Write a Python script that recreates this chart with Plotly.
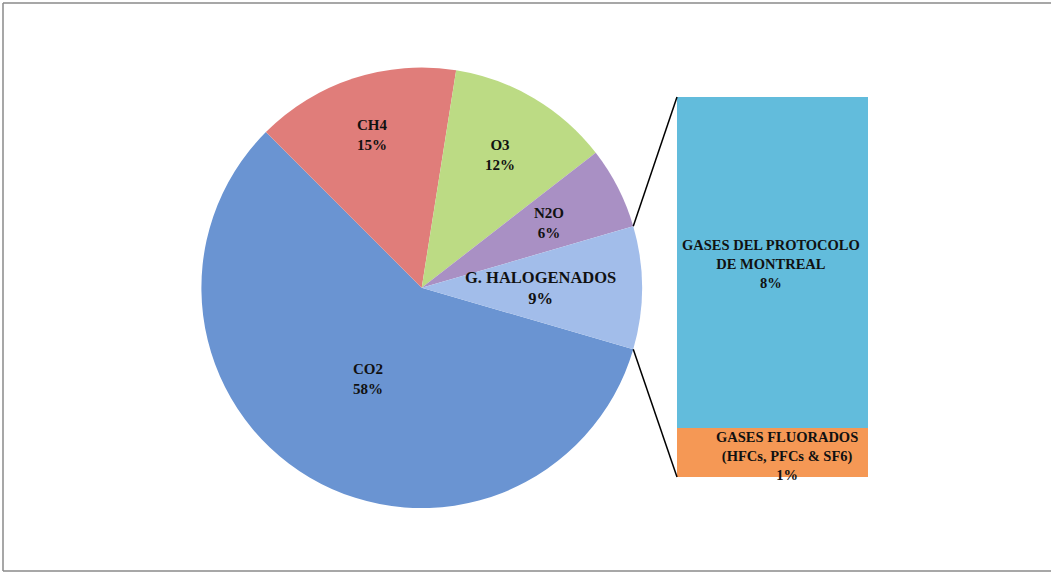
import math
import plotly.graph_objects as go

# ---------------- data ----------------
pie_labels = ["CO2", "CH4", "O3", "N2O", "G. HALOGENADOS"]
pie_values = [58, 15, 12, 6, 9]
bar_labels = ["GASES FLUORADOS<br>(HFCs, PFCs & SF6)", "GASES DEL PROTOCOLO<br>DE MONTREAL"]
bar_values = [1.15, 7.85]

# ---------------- style ----------------
W, H = 1051, 573
pie_colors = ["#6a94d2", "#e07d7a", "#bcdb84", "#a990c4", "#a2bdea"]
bar_colors = ["#f59855", "#62bcdc"]
FONT = "Liberation Serif"

# pie placement (pixels)
PIE_CX, PIE_CY, PIE_R = 421.7, 287.8, 220.3
pie_dom_x = [(PIE_CX - PIE_R) / W, (PIE_CX + PIE_R) / W]
pie_dom_y = [1 - (PIE_CY + PIE_R) / H, 1 - (PIE_CY - PIE_R) / H]

# bar placement (pixels)
BAR_X0, BAR_X1, BAR_Y0, BAR_Y1 = 677, 868, 97, 477
bar_dom_x = [BAR_X0 / W, BAR_X1 / W]
bar_dom_y = [1 - BAR_Y1 / H, 1 - BAR_Y0 / H]

total = sum(pie_values)
last_share = pie_values[-1] / total
rotation = 90 + last_share * 180  # last slice centred at 3 o'clock

fig = go.Figure()
fig.add_trace(go.Pie(
    labels=pie_labels, values=pie_values, sort=False, direction="clockwise",
    rotation=rotation, domain=dict(x=pie_dom_x, y=pie_dom_y),
    marker=dict(colors=pie_colors, line=dict(width=0)),
    textinfo="none", hoverinfo="label+percent", showlegend=False,
))

bar_total = sum(bar_values)
for lab, v, c in zip(bar_labels, bar_values, bar_colors):
    fig.add_trace(go.Bar(
        x=[0], y=[v], width=[1], marker=dict(color=c, line=dict(width=0)),
        name=lab.replace("<br>", " "), showlegend=False,
        xaxis="x", yaxis="y", hoverinfo="name+y",
    ))

annotations = []
# pie labels
label_radius = [0.48, 0.73, 0.70, 0.65, 0.54]
label_size = [15, 15, 15, 15, 16.5]
cum = 0
for lab, v, f, fs in zip(pie_labels, pie_values, label_radius, label_size):
    mid = math.radians(rotation + (cum + v / 2) / total * 360)
    cum += v
    px = PIE_CX + f * PIE_R * math.sin(mid)
    py = PIE_CY - f * PIE_R * math.cos(mid)
    annotations.append(dict(
        x=px / W, y=1 - py / H, xref="paper", yref="paper",
        text=f"<b>{lab}<br>{round(v / total * 100)}%</b>",
        showarrow=False, xanchor="center", yanchor="middle",
        font=dict(family=FONT, size=fs, color="#111111"),
    ))

# bar labels
bar_xshift = [14, -2]
bar_yshift = [-3, -1]
base = 0
for lab, v, xs, ys in zip(bar_labels, bar_values, bar_xshift, bar_yshift):
    annotations.append(dict(
        x=0, y=base + v / 2, xref="x", yref="y",
        text=f"<b>{lab}<br>{round(v)}%</b>",
        showarrow=False, xanchor="center", yanchor="middle",
        xshift=xs, yshift=ys,
        font=dict(family=FONT, size=14.5, color="#111111"),
    ))
    base += v

# connector lines from the split slice edges to the bar corners
half = math.radians(last_share * 180)
ex = PIE_CX + PIE_R * math.cos(half)
ey_top = PIE_CY - PIE_R * math.sin(half)
ey_bot = PIE_CY + PIE_R * math.sin(half)
border = dict(color="#8a8a8a", width=1.5)
bx0, by_top, by_bot = 3 / W, 1 - 3 / H, 1 - 571 / H
shapes = [
    dict(type="line", xref="paper", yref="paper",
         x0=ex / W, y0=1 - ey_top / H, x1=bar_dom_x[0], y1=bar_dom_y[1],
         line=dict(color="#000000", width=1.5)),
    dict(type="line", xref="paper", yref="paper",
         x0=ex / W, y0=1 - ey_bot / H, x1=bar_dom_x[0], y1=bar_dom_y[0],
         line=dict(color="#000000", width=1.5)),
    # chart-area frame (left, top, bottom; right edge is outside the view)
    dict(type="line", xref="paper", yref="paper", x0=bx0, x1=bx0, y0=by_bot, y1=by_top, line=border),
    dict(type="line", xref="paper", yref="paper", x0=bx0, x1=1, y0=by_top, y1=by_top, line=border),
    dict(type="line", xref="paper", yref="paper", x0=bx0, x1=1, y0=by_bot, y1=by_bot, line=border),
]

fig.update_layout(
    width=W, height=H, margin=dict(l=0, r=0, t=0, b=0),
    paper_bgcolor="white", plot_bgcolor="rgba(0,0,0,0)",
    barmode="stack", bargap=0,
    xaxis=dict(domain=bar_dom_x, range=[-0.5, 0.5], visible=False, fixedrange=True),
    yaxis=dict(domain=bar_dom_y, range=[0, bar_total], visible=False, fixedrange=True),
    annotations=annotations, shapes=shapes, showlegend=False,
)

fig.write_html(
    "out.html",
    config={"displayModeBar": False},
    post_script="document.body.style.margin='0';document.body.style.overflow='hidden';",
)
